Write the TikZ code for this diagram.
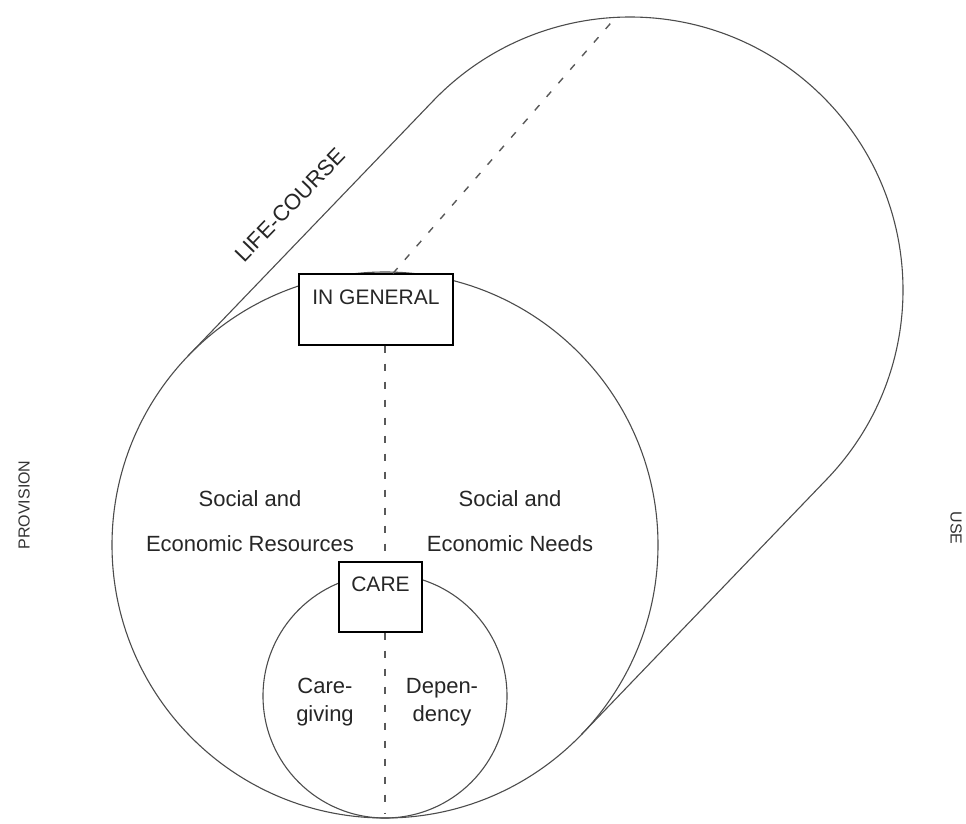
\documentclass[tikz,border=0pt]{standalone}
\usepackage{fontspec}
\setmainfont{Liberation Sans}
\usetikzlibrary{calc}
\begin{document}
\begin{tikzpicture}[x=1pt,y=1pt,
  outline/.style={draw=black!70, line width=1.1pt},
  hidden/.style={draw=black!65, line width=1.4pt, dash pattern=on 7pt off 11pt},
  framebox/.style={draw=black, line width=1.3pt, fill=white, inner sep=0pt,
    text=black!85, font=\fontsize{21}{25}\selectfont},
  lbl/.style={text=black!85, font=\fontsize{22}{26}\selectfont, inner sep=0pt, anchor=base},
  side/.style={text=black!80, font=\fontsize{16}{19}\selectfont, inner sep=0pt}]
\useasboundingbox (0,0) rectangle (966,823);
\def\R{273}
% front disc, back disc and the small inner disc
\coordinate (F) at (385,278);
\coordinate (B) at (630,533);
\coordinate (S) at (385,127);
\coordinate (bot) at (385,10);

% cylinder: two tangent lines joined by the visible half of the back circle
\draw[outline] ($(F)+(136.1:\R)$) -- ($(B)+(136.1:\R)$)
  arc[start angle=136.1, end angle=-43.9, radius=\R] -- ($(F)+(-43.9:\R)$);
\draw[outline] (F) circle[radius=\R];
\draw[outline] (S) circle[radius=122];

% labelled boxes
\node[framebox, minimum width=154pt, text height=31pt, text depth=40pt]
  (ingen) at (376,513.5) {IN GENERAL};
\node[framebox, minimum width=83pt, text height=29pt, text depth=41pt]
  (care) at (380.5,226) {CARE};

% dashed axes
\draw[hidden] (ingen.south -| F) -- (care.north -| F);
\draw[hidden] (care.south -| F) -- (bot);
\draw[hidden] ($(ingen.north)+(17,0)$) -- ($(B)+(93:\R)$);

% texts
\node[lbl] (socl) at (250,317) {Social and};
\node[lbl] (ecor) at (250,272) {Economic Resources};
\node[lbl] (socr) at (510,317) {Social and};
\node[lbl] (econ) at (510,272) {Economic Needs};
\node[lbl] (cg1) at (325,130) {Care-};
\node[lbl] (cg2) at (325,102) {giving};
\node[lbl] (dp1) at (442,130) {Depen-};
\node[lbl] (dp2) at (442,102) {dency};
\node[side, rotate=90] (prov) at (24,318) {PROVISION};
\node[side, rotate=-90] (use) at (956,295) {USE};
\node[lbl, anchor=center, rotate=46] (life) at (290,618) {LIFE-COURSE};
\end{tikzpicture}
\end{document}
